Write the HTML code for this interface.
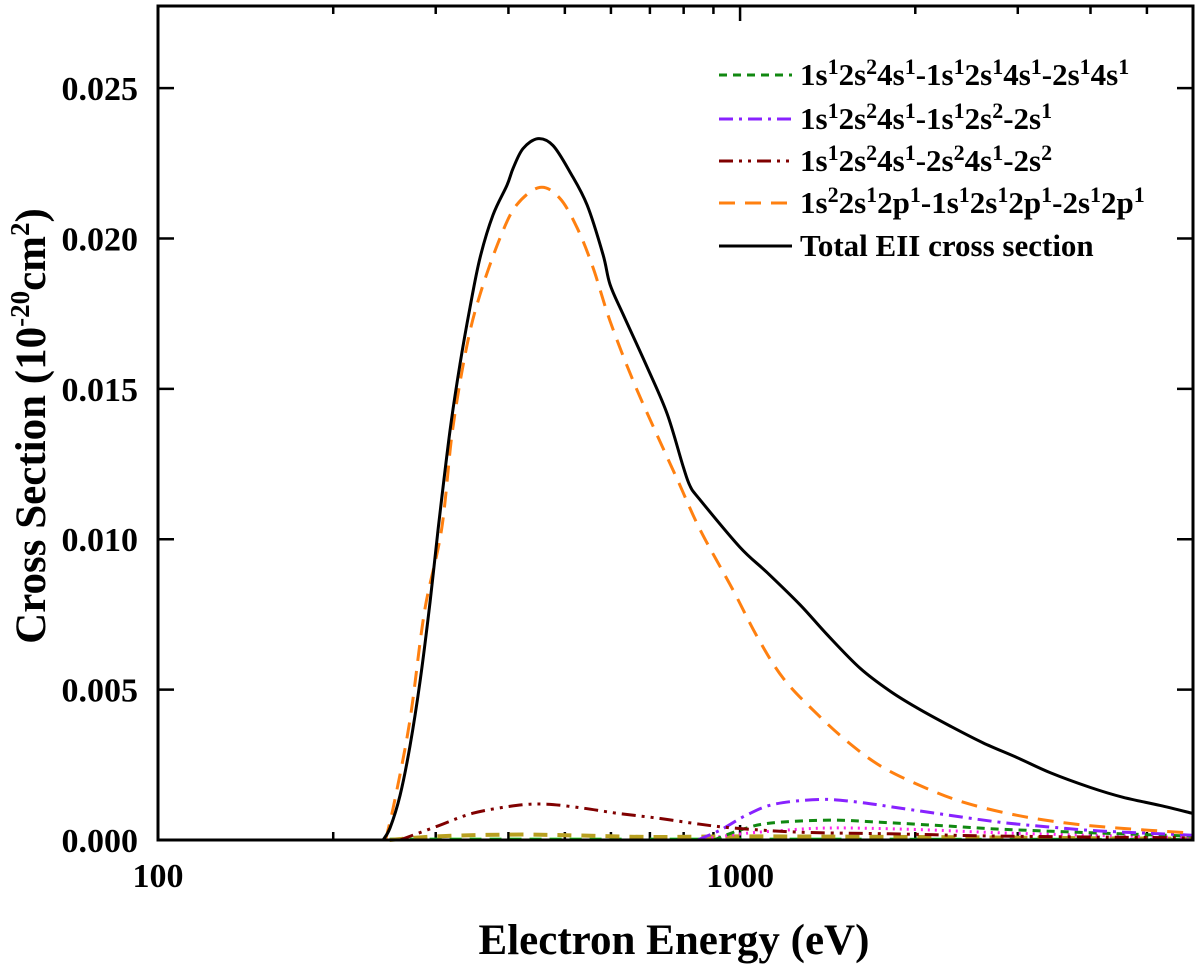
<!DOCTYPE html>
<html><head><meta charset="utf-8"><style>
html,body{margin:0;padding:0;background:#fff;width:1200px;height:969px;overflow:hidden}
svg{display:block;font-family:"Liberation Serif",serif;font-weight:bold}
</style></head><body>
<svg id="chart" width="1200" height="969" viewBox="0 0 1200 969" xmlns="http://www.w3.org/2000/svg">
<g id="axes"></g>
<g id="series"></g>
<rect x="158" y="6" width="1035" height="834" fill="none" stroke="#000" stroke-width="3"/>
<text x="674" y="954" font-size="43" text-anchor="middle">Electron Energy (eV)</text>
<text transform="translate(45,426) rotate(-90)" font-size="43" text-anchor="middle">Cross Section (10<tspan dy="-16" font-size="27">-20</tspan><tspan dy="16">cm</tspan><tspan dy="-16" font-size="27">2</tspan><tspan dy="16">)</tspan></text>
<g id="legend"></g>
</svg>
<script>
const xTicksMajor=[100,1000];
const xTicksMinor=[200,300,400,500,600,700,800,900,2000,3000,4000,5000];
const yTicks=[0,0.005,0.010,0.015,0.020,0.025];
const yTickLabels=["0.000","0.005","0.010","0.015","0.020","0.025"];

const totalE=[243.6,250.4,260.5,271,282,293.4,302.8,317.5,330.3,343.6,357.5,376.3,397.7,407.4,423.8,449.8,477.2,510.6,546.1,581.6,597.9,629.5,692.1,749.1,798.1,820.5,853.6,1000,1112,1268,1411,1608,1810,2015,2295,2615,2992,3409,3994,4550,5268,5978];
const totalV=[0,0.0004,0.00148,0.00313,0.00528,0.00792,0.01032,0.01362,0.01583,0.01771,0.01936,0.02078,0.02177,0.02233,0.02299,0.02332,0.02309,0.0222,0.02111,0.01946,0.01847,0.01748,0.01573,0.01418,0.01243,0.01177,0.01131,0.00973,0.0089,0.00782,0.00683,0.00571,0.00495,0.00439,0.00379,0.00323,0.00274,0.00224,0.00175,0.00142,0.00115,0.00089];
const orangeE=[246,255,271,287,307,320.6,339,357.5,387,413,453,490,525,559,598,655,718,781,853.6,972.6,1070,1186,1356,1545,1761,2096,2455,2992,3646,4444,5978];
const orangeV=[0,0.0013,0.004,0.0076,0.01032,0.01362,0.01639,0.01814,0.02002,0.02111,0.0217,0.02134,0.02035,0.01903,0.01725,0.01527,0.01352,0.01197,0.01032,0.00831,0.00676,0.00538,0.00419,0.0032,0.00241,0.00171,0.00122,0.00082,0.00056,0.0004,0.00023];
const redE=[260.5,302,347.6,413.6,466,537,614,719,850,973,1268,1883,2797,5978];
const redV=[0,0.00046,0.00089,0.00115,0.00119,0.00106,0.00089,0.00073,0.00053,0.0004,0.00026,0.0002,0.00013,0.00007];
const purpleE=[845,925,1024,1145,1376,1608,1883,2295,2797,3409,4155,5978];
const purpleV=[0,0.00033,0.00082,0.00119,0.00135,0.00125,0.00106,0.00082,0.00059,0.00043,0.0003,0.00016];
const greenE=[901,1000,1126,1428,1741,2295,2797,4155,5978];
const greenV=[0,0.00033,0.00056,0.00066,0.00059,0.00046,0.00036,0.00023,0.00013];
const magentaE=[845,1000,1150,1428,2000,3000,6000];
const magentaV=[0,0.0002,0.0003,0.0004,0.00035,0.00022,0.00008];
const oliveE=[250,300,400,500,700,1000,2000,4000,6000];
const oliveV=[0,0.00012,0.00018,0.00016,0.0001,0.00012,0.0001,0.00006,0.00004];
const limeE=[250,1000,6000];
const limeV=[0.00003,0.00003,0.00002];

const L=158,R=1193,T=6,B=840,XMIN=100,XMAX=6000,YMAX=0.02773;
const xs=e=>L+(Math.log10(e)-Math.log10(XMIN))/(Math.log10(XMAX)-Math.log10(XMIN))*(R-L);
const ys=v=>B-v/YMAX*(B-T);
const NS="http://www.w3.org/2000/svg";
function mk(tag,attrs,parent){const el=document.createElementNS(NS,tag);for(const k in attrs)el.setAttribute(k,attrs[k]);parent.appendChild(el);return el;}
const axes=document.getElementById('axes');
xTicksMajor.forEach(t=>{const x=xs(t);
 let a=mk('line',{x1:x,x2:x,y1:B,y2:B-15,stroke:'#000','stroke-width':2.5},axes);
 
 let b=mk('line',{x1:x,x2:x,y1:T,y2:T+15,stroke:'#000','stroke-width':2.5},axes);
 
 let tx=mk('text',{x:x,y:887,'font-size':34,'text-anchor':'middle'},axes);tx.textContent=t;
 
});
xTicksMinor.forEach(t=>{const x=xs(t);
 let a=mk('line',{x1:x,x2:x,y1:B,y2:B-8,stroke:'#000','stroke-width':2.5},axes);
 
 let b=mk('line',{x1:x,x2:x,y1:T,y2:T+8,stroke:'#000','stroke-width':2.5},axes);
 
});
yTicks.forEach((t,i)=>{const y=ys(t);
 let a=mk('line',{x1:L,x2:L+16,y1:y,y2:y,stroke:'#000','stroke-width':2.5},axes);
 
 let b=mk('line',{x1:R,x2:R-16,y1:y,y2:y,stroke:'#000','stroke-width':2.5},axes);
 
 let tx=mk('text',{x:138,y:y+12,'font-size':34,'text-anchor':'end'},axes);tx.textContent=yTickLabels[i];
 
});
function pathD(E,V){const p=E.map((e,i)=>[xs(e),ys(V[i])]);let d='M'+p[0][0]+','+p[0][1];
 for(let i=0;i<p.length-1;i++){const p0=p[i-1]||p[i],p1=p[i],p2=p[i+1],p3=p[i+2]||p[i+1];
  const c1=[p1[0]+(p2[0]-p0[0])/6,p1[1]+(p2[1]-p0[1])/6],c2=[p2[0]-(p3[0]-p1[0])/6,p2[1]-(p3[1]-p1[1])/6];
  d+=' C'+c1[0]+','+c1[1]+' '+c2[0]+','+c2[1]+' '+p2[0]+','+p2[1];}return d;}
const series=document.getElementById('series');
const defs=[
 [limeE,limeV,'#22dd22','12 8',3,'series-lime'],
 [oliveE,oliveV,'#b8a020','14 10',4,'series-olive'],
 [magentaE,magentaV,'#ff22ee','2 5',3,'series-magenta'],
 [greenE,greenV,'#118811','8 6',3,'series-2s1-4s1'],
 [purpleE,purpleV,'#8822ff','14 6 3 6',3,'series-1s1-2s2'],
 [redE,redV,'#800000','14 6 3 6 3 6',3,'series-2s2-4s1'],
 [orangeE,orangeV,'#ff8010','16 10',3,'series-2s1-2p1'],
 [totalE,totalV,'#000',null,3,'series-total'],
];
defs.forEach(s=>{const p=mk('path',{d:pathD(s[0],s[1]),fill:'none',stroke:s[2],'stroke-width':s[4],'stroke-linejoin':'round'},series);
 if(s[3])p.setAttribute('stroke-dasharray',s[3]);
 });
const lg=document.getElementById('legend');
function sup(s){return '<tspan dy="-11" font-size="22">'+s+'</tspan><tspan dy="11">';}
function lab(parts){return parts.map((p,i)=>i%2? sup(p): p+(i>0?'</tspan>':'')).join('');}
const items=[
 ['#118811','8 6',['1s','1','2s','2','4s','1','-1s','1','2s','1','4s','1','-2s','1','4s','1','']],
 ['#8822ff','14 6 3 6',['1s','1','2s','2','4s','1','-1s','1','2s','2','-2s','1','']],
 ['#800000','14 6 3 6 3 6',['1s','1','2s','2','4s','1','-2s','2','4s','1','-2s','2','']],
 ['#ff8010','16 10',['1s','2','2s','1','2p','1','-1s','1','2s','1','2p','1','-2s','1','2p','1','']],
 ['#000',null,['Total EII cross section']],
];
const rowsY=[75,119,161,203,246];
items.forEach((it,i)=>{const y=rowsY[i];
 const g=mk('g',{},lg);
 const ln=mk('line',{x1:719,x2:792,y1:y,y2:y,stroke:it[0],'stroke-width':3},g);
 if(it[1])ln.setAttribute('stroke-dasharray',it[1]);
 const t=mk('text',{x:800,y:y+10,'font-size':31},g);t.innerHTML=lab(it[2]);});
</script>
</body></html>
